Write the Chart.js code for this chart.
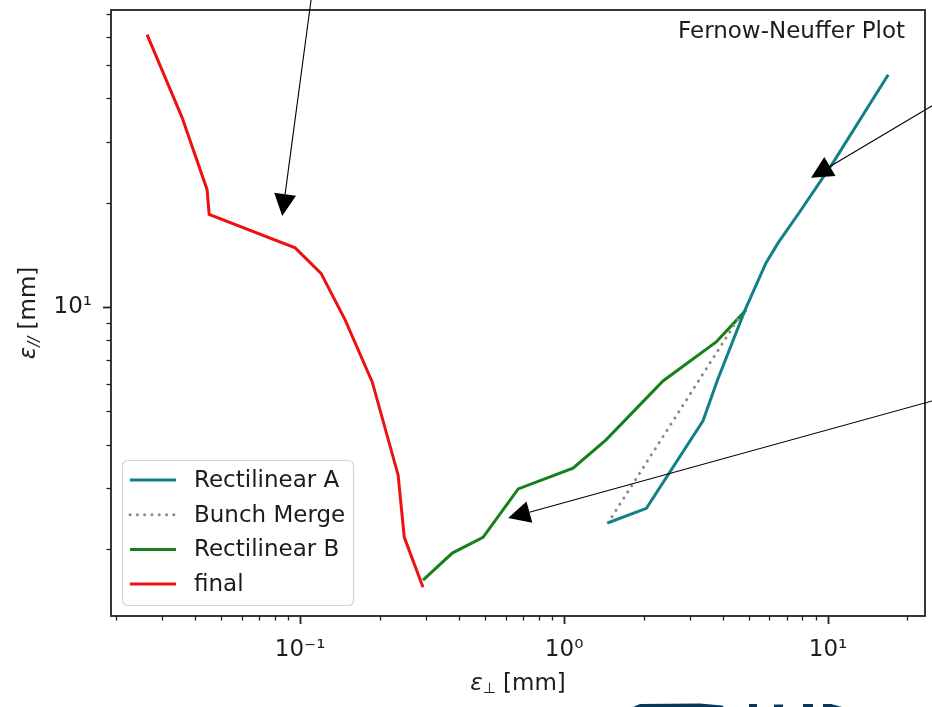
<!DOCTYPE html>
<html>
<head>
<meta charset="utf-8">
<script src="https://cdn.jsdelivr.net/npm/chart.js@4/dist/chart.umd.min.js"></script>
<style>
html,body{margin:0;padding:0;background:#ffffff;}
#wrap{width:932px;height:707px;position:relative;}
</style>
</head>
<body>
<div id="wrap"><canvas id="c" width="932" height="707"></canvas></div>
<script>
// ---------------- data ----------------
const seriesNames = ["Rectilinear A", "Bunch Merge", "Rectilinear B", "final"];

const rectA_x = [1.468, 2.05, 3.36, 3.80, 4.85, 5.82, 6.47, 7.77, 10.45, 16.9];
const rectA_y = [2.38, 2.62, 4.69, 6.11, 9.80, 13.4, 15.3, 18.7, 26.1, 46.8];

const merge_x = [1.468, 4.64];
const merge_y = [2.38, 9.42];

const rectB_x = [0.292, 0.377, 0.493, 0.670, 1.081, 1.442, 2.37, 3.77, 4.44, 4.89];
const rectB_y = [1.625, 1.945, 2.16, 2.98, 3.42, 4.13, 6.11, 7.92, 9.05, 9.80];

const final_x = [0.0263, 0.0357, 0.0444, 0.0452, 0.0957, 0.120, 0.148, 0.1875, 0.235, 0.248, 0.292];
const final_y = [61.1, 35.2, 21.8, 18.5, 14.8, 12.5, 9.17, 6.07, 3.27, 2.16, 1.55];

// axis ranges and tick labels
const xRange = [0.0192, 23.3];
const yRange = [1.28, 72];
const xMajorTicks = [0.1, 1, 10];
const xTickLabels = ["10\u207B\u00B9", "10\u2070", "10\u00B9"];
const yMajorTicks = [10];
const yTickLabels = ["10\u00B9"];

const plotTitle = "Fernow-Neuffer Plot";

// annotation arrows (data coordinates: tail -> tip)
const arrowTail_x = [0.110, 24.8, 24.8];
const arrowTail_y = [77.1, 38.1, 5.35];
const arrowTip_x = [0.0855, 8.62, 0.614];
const arrowTip_y = [18.3, 23.6, 2.455];

// ---------------- build ----------------
const pts = (xs, ys) => xs.map((x, i) => ({x: x, y: ys[i]}));
const FONT = "'DejaVu Sans', 'Liberation Sans', sans-serif";
const FS = 23;
const TXT = "#1c1c1c";

const colors = ["#138089", "#8a8a8a", "#188018", "#ee1111"];

const datasets = [
  {label: seriesNames[0], data: pts(rectA_x, rectA_y), borderColor: colors[0], borderWidth: 3, pointRadius: 0, fill: false, tension: 0},
  {label: seriesNames[1], data: pts(merge_x, merge_y), borderColor: colors[1], borderWidth: 3, borderDash: [0.1, 7.2], borderCapStyle: "round", pointRadius: 0, fill: false},
  {label: seriesNames[2], data: pts(rectB_x, rectB_y), borderColor: colors[2], borderWidth: 3, pointRadius: 0, fill: false},
  {label: seriesNames[3], data: pts(final_x, final_y), borderColor: colors[3], borderWidth: 3, pointRadius: 0, fill: false}
];

function minorValues(lo, hi) {
  const out = [];
  for (let e = Math.floor(Math.log10(lo)) - 1; e <= Math.ceil(Math.log10(hi)); e++) {
    for (let m = 1; m <= 9; m++) {
      const v = m * Math.pow(10, e);
      if (v >= lo && v <= hi) out.push({v: v, major: m === 1});
    }
  }
  return out;
}

const decor = {
  id: "decor",
  afterDatasetsDraw(chart) {
    const ctx = chart.ctx;
    const a = chart.chartArea;
    const xs = chart.scales.x, ys = chart.scales.y;
    ctx.save();

    // frame
    ctx.strokeStyle = "#222";
    ctx.lineWidth = 1.8;
    ctx.strokeRect(a.left, a.top, a.right - a.left, a.bottom - a.top);

    // ticks (outward)
    ctx.lineCap = "butt";
    minorValues(xRange[0], xRange[1]).forEach(t => {
      const px = Math.round(xs.getPixelForValue(t.v)) + 0.5;
      ctx.lineWidth = t.major ? 1.8 : 1.3;
      ctx.beginPath();
      ctx.moveTo(px, a.bottom);
      ctx.lineTo(px, a.bottom + (t.major ? 8 : 4.5));
      ctx.stroke();
    });
    minorValues(yRange[0], yRange[1]).forEach(t => {
      const py = Math.round(ys.getPixelForValue(t.v)) + 0.5;
      ctx.lineWidth = t.major ? 1.8 : 1.3;
      ctx.beginPath();
      ctx.moveTo(a.left, py);
      ctx.lineTo(a.left - (t.major ? 8 : 4.5), py);
      ctx.stroke();
    });

    // plot title (inside axes, top right)
    ctx.fillStyle = TXT;
    ctx.font = FS + "px " + FONT;
    ctx.textAlign = "right";
    ctx.textBaseline = "alphabetic";
    ctx.fillText(plotTitle, a.right - 20, a.top + 28);

    const widths = (sub, subFont, rest) => {
      ctx.font = "italic " + FS + "px " + FONT;
      const w1 = ctx.measureText("\u03B5").width;
      ctx.font = subFont;
      const w2 = ctx.measureText(sub).width;
      ctx.font = FS + "px " + FONT;
      const w3 = ctx.measureText(rest).width;
      return [w1, w2, w3];
    };
    // x axis title: ε⊥ [mm]
    {
      const sub = "\u22A5", rest = " [mm]", sf = "15px " + FONT;
      const [w1, w2, w3] = widths(sub, sf, rest);
      const total = w1 + w2 + w3;
      let x = (a.left + a.right) / 2 - total / 2;
      const base = 690;
      ctx.textAlign = "left";
      ctx.font = "italic " + FS + "px " + FONT; ctx.fillText("\u03B5", x, base); x += w1;
      ctx.font = sf; ctx.fillText(sub, x, base + 3); x += w2;
      ctx.font = FS + "px " + FONT; ctx.fillText(rest, x, base);
    }
    // y axis title: ε// [mm] rotated
    {
      const sub = "//", rest = " [mm]", sf = "italic 15px " + FONT;
      const [w1, w2, w3] = widths(sub, sf, rest);
      const total = w1 + w2 + w3;
      ctx.save();
      ctx.translate(35, (a.top + a.bottom) / 2);
      ctx.rotate(-Math.PI / 2);
      let x = -total / 2;
      ctx.textAlign = "left";
      ctx.font = "italic " + FS + "px " + FONT; ctx.fillText("\u03B5", x, 0); x += w1;
      ctx.font = sf; ctx.fillText(sub, x, 4); x += w2;
      ctx.font = FS + "px " + FONT; ctx.fillText(rest, x, 0);
      ctx.restore();
    }

    // annotation arrows
    ctx.strokeStyle = "#000";
    ctx.fillStyle = "#000";
    ctx.lineWidth = 1.1;
    for (let i = 0; i < arrowTip_x.length; i++) {
      const x0 = xs.getPixelForValue(arrowTail_x[i]), y0 = ys.getPixelForValue(arrowTail_y[i]);
      const x1 = xs.getPixelForValue(arrowTip_x[i]), y1 = ys.getPixelForValue(arrowTip_y[i]);
      const dx = x1 - x0, dy = y1 - y0, len = Math.hypot(dx, dy);
      const ux = dx / len, uy = dy / len;
      const L = 22, H = 11;
      const bx = x1 - ux * L, by = y1 - uy * L;
      ctx.beginPath();
      ctx.moveTo(x0, y0);
      ctx.lineTo(bx, by);
      ctx.stroke();
      ctx.beginPath();
      ctx.moveTo(x1, y1);
      ctx.lineTo(bx - uy * H, by + ux * H);
      ctx.lineTo(bx + uy * H, by - ux * H);
      ctx.closePath();
      ctx.fill();
    }

    // legend (lower left, inside axes)
    const lx = a.left + 11, ly = a.bottom - 156, lw = 231, lh = 145;
    ctx.beginPath();
    ctx.roundRect(lx + 0.5, ly + 0.5, lw, lh, 5);
    ctx.fillStyle = "rgba(255,255,255,0.85)";
    ctx.fill();
    ctx.strokeStyle = "#d4d4d4";
    ctx.lineWidth = 1.2;
    ctx.stroke();
    chart.data.datasets.forEach((ds, i) => {
      const ry = ly + 20 + i * 34.7;
      ctx.strokeStyle = ds.borderColor;
      ctx.lineWidth = ds.borderWidth;
      ctx.lineCap = ds.borderCapStyle || "butt";
      ctx.setLineDash(ds.borderDash || []);
      ctx.beginPath();
      ctx.moveTo(lx + 8, ry);
      ctx.lineTo(lx + 54, ry);
      ctx.stroke();
      ctx.setLineDash([]);
      ctx.lineCap = "butt";
      ctx.fillStyle = TXT;
      ctx.font = FS + "px " + FONT;
      ctx.textAlign = "left";
      ctx.textBaseline = "middle";
      ctx.fillText(ds.label, lx + 72, ry + 1);
    });

    // cropped logo fragment at bottom edge
    ctx.fillStyle = "#0b3656";
    ctx.beginPath();
    ctx.moveTo(633, 707); ctx.lineTo(640, 704); ctx.lineTo(700, 703.5); ctx.lineTo(722, 705.5); ctx.lineTo(724, 707); ctx.closePath(); ctx.fill();
    ctx.fillRect(749, 704, 8, 3);
    ctx.fillRect(774, 704.5, 9, 2.5);
    ctx.fillRect(803, 704, 10, 3);
    ctx.beginPath();
    ctx.moveTo(823, 704); ctx.lineTo(831, 704); ctx.lineTo(842, 707); ctx.lineTo(823, 707); ctx.closePath(); ctx.fill();

    ctx.restore();
  }
};

const chart = new Chart(document.getElementById("c"), {
  type: "line",
  data: {datasets: datasets},
  options: {
    responsive: false,
    devicePixelRatio: 1,
    animation: false,
    layout: {padding: {left: 0, right: 7, top: 10, bottom: 0}},
    plugins: {legend: {display: false}, tooltip: {enabled: false}, title: {display: false}},
    scales: {
      x: {
        type: "logarithmic",
        min: xRange[0], max: xRange[1],
        afterBuildTicks: s => { s.ticks = xMajorTicks.map(v => ({value: v, major: true})); },
        afterFit: s => { s.height = 91; s.paddingLeft = 0; s.paddingRight = 0; s.paddingTop = 0; s.paddingBottom = 0; },
        ticks: {
          autoSkip: false, maxRotation: 0, padding: 20, color: TXT,
          font: {family: FONT, size: FS},
          callback: (v) => { const i = xMajorTicks.indexOf(v); return i >= 0 ? xTickLabels[i] : ""; }
        },
        grid: {display: false, drawTicks: false},
        border: {display: false}
      },
      y: {
        type: "logarithmic",
        min: yRange[0], max: yRange[1],
        afterBuildTicks: s => { s.ticks = yMajorTicks.map(v => ({value: v, major: true})); },
        afterFit: s => { s.width = 111; s.paddingLeft = 0; s.paddingRight = 0; s.paddingTop = 0; s.paddingBottom = 0; },
        ticks: {
          autoSkip: false, padding: 19, color: TXT,
          font: {family: FONT, size: FS},
          callback: (v) => { const i = yMajorTicks.indexOf(v); return i >= 0 ? yTickLabels[i] : ""; }
        },
        grid: {display: false, drawTicks: false},
        border: {display: false}
      }
    }
  },
  plugins: [decor]
});
</script>
</body>
</html>
